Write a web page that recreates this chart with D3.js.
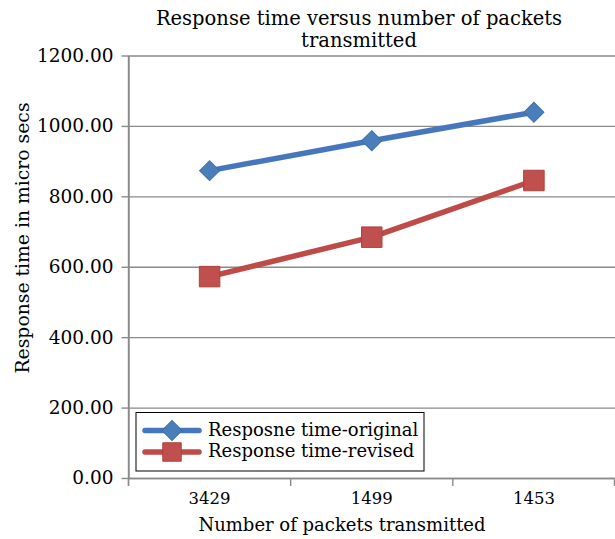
<!DOCTYPE html>
<html>
<head>
<meta charset="utf-8">
<script src="https://cdn.jsdelivr.net/npm/d3@7"></script>
<style>
body { margin: 0; background: #fff; }
text { font-family: "DejaVu Serif", serif; fill: #000; }
</style>
</head>
<body>
<div id="chart"></div>
<script>
// data
var categories = ['3429', '1499', '1453'];
var original = [873, 958, 1039];
var revised = [572, 684, 845];
var yTicks = [0, 200, 400, 600, 800, 1000, 1200];
var seriesNames = ['Resposne time-original', 'Response time-revised'];

var W = 615, H = 539;
var m = {left: 128.5, right: 0, top: 55.5, bottom: 61};
var w = W - m.left - m.right;
var h = H - m.top - m.bottom;

var svg = d3.select('#chart')
    .append('svg')
    .attr('width', W)
    .attr('height', H)
    .append('g')
    .attr('transform', 'translate(' + m.left + ',' + m.top + ')');

var x = d3.scaleBand().domain(categories).range([0, w]);
var y = d3.scaleLinear().domain([0, 1200]).range([h, 0]);
var colors = {line: ['#4677BE', '#BE4B48'], marker: ['#4A7EBB', '#C0504D']};
var gridColor = '#8a8a8a';

// gridlines
var grid = svg.append('g')
    .call(d3.axisLeft(y).tickValues(yTicks).tickSize(-w).tickFormat(''));
grid.select('.domain').remove();
grid.selectAll('line').attr('stroke', gridColor).attr('stroke-width', 1.4);

// y axis
var yAxis = svg.append('g')
    .call(d3.axisLeft(y).tickValues(yTicks).tickSizeInner(7).tickSizeOuter(0).tickPadding(8).tickFormat(d3.format('.2f')));
yAxis.select('.domain').attr('stroke', gridColor).attr('stroke-width', 1.4);
yAxis.selectAll('line').attr('stroke', gridColor).attr('stroke-width', 1.4);
yAxis.selectAll('text').style('font-size', '18.5px').attr('fill', '#000');

// x axis: labels at band centers, ticks at band edges
var xAxis = svg.append('g')
    .attr('transform', 'translate(0,' + h + ')')
    .call(d3.axisBottom(x).tickSize(0).tickPadding(14));
xAxis.select('.domain').attr('stroke', gridColor).attr('stroke-width', 1.4);
xAxis.selectAll('text').style('font-size', '16.5px').attr('fill', '#000');

var edges = categories.map(function(c) { return x(c) }).concat([x.range()[1] - 0.5]);
xAxis.selectAll('.edge')
    .data(edges)
    .enter()
    .append('line')
    .attr('x1', function(d) { return d })
    .attr('x2', function(d) { return d })
    .attr('y1', 0)
    .attr('y2', 8)
    .attr('stroke', gridColor)
    .attr('stroke-width', 1.4);
svg.append('line')
    .attr('x1', 0).attr('x2', 0)
    .attr('y1', 0).attr('y2', h + 8)
    .attr('stroke', gridColor).attr('stroke-width', 1.4);

// series
var cx = function(d, i) { return x(categories[i]) + x.bandwidth() / 2 };
var line = d3.line()
    .x(cx)
    .y(function(d) { return y(d) });

var diamond = d3.symbol().type(d3.symbolSquare).size(200);
var square = d3.symbol().type(d3.symbolSquare).size(420);
var legendSquare = d3.symbol().type(d3.symbolSquare).size(340);

[original, revised].forEach(function(vals, k) {
    svg.append('path')
        .datum(vals)
        .attr('d', line)
        .attr('fill', 'none')
        .attr('stroke', colors.line[k])
        .attr('stroke-width', 5.5)
        .attr('stroke-linejoin', 'round')
        .attr('stroke-linecap', 'round');

    svg.append('g')
        .selectAll('path')
        .data(vals)
        .enter()
        .append('path')
        .attr('d', k == 0 ? diamond : square)
        .attr('transform', function(d, i) {
            return 'translate(' + cx(d, i) + ',' + y(d) + ')' + (k == 0 ? ' rotate(45)' : '')
        })
        .attr('fill', colors.marker[k])
        .attr('stroke', k == 0 ? '#3F70AD' : '#B0413E')
        .attr('stroke-width', 1);
});

// legend
var lg = svg.append('g').attr('transform', 'translate(' + (136 - m.left) + ',' + (412.5 - m.top) + ')');
lg.append('rect')
    .attr('x', 0).attr('y', 0)
    .attr('width', 288).attr('height', 58.5)
    .attr('fill', '#fff')
    .attr('stroke', '#000')
    .attr('stroke-width', 1);

seriesNames.forEach(function(name, k) {
    var ly = 18 + k * 21.5;
    lg.append('line')
        .attr('x1', 9).attr('x2', 63)
        .attr('y1', ly).attr('y2', ly)
        .attr('stroke', colors.line[k])
        .attr('stroke-width', 5.5)
        .attr('stroke-linecap', 'round');
    lg.append('path')
        .attr('d', k == 0 ? diamond : legendSquare)
        .attr('transform', 'translate(36,' + ly + ')' + (k == 0 ? ' rotate(45)' : ''))
        .attr('fill', colors.marker[k])
        .attr('stroke', k == 0 ? '#3F70AD' : '#B0413E');
    lg.append('text')
        .attr('x', 72)
        .attr('y', ly)
        .attr('dy', '0.3em')
        .style('font-size', '18px')
        .text(name);
});

// title
svg.append('text')
    .attr('x', 359 - m.left)
    .attr('y', 25 - m.top)
    .style('text-anchor', 'middle')
    .style('font-size', '19.5px')
    .text('Response time versus number of packets');
svg.append('text')
    .attr('x', 359 - m.left)
    .attr('y', 47 - m.top)
    .style('text-anchor', 'middle')
    .style('font-size', '19.5px')
    .text('transmitted');

// axis labels
svg.append('text')
    .attr('transform', 'translate(' + (29 - m.left) + ',' + (238 - m.top) + ') rotate(-90)')
    .style('text-anchor', 'middle')
    .style('font-size', '18.8px')
    .text('Response time in micro secs');

svg.append('text')
    .attr('x', 342 - m.left)
    .attr('y', 531 - m.top)
    .style('text-anchor', 'middle')
    .style('font-size', '18px')
    .text('Number of packets transmitted');
</script>
</body>
</html>
